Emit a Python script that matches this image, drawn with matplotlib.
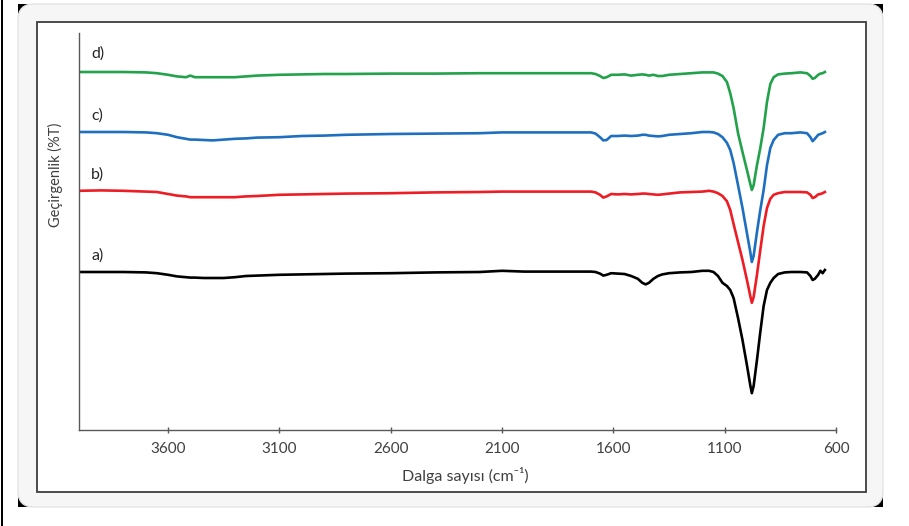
import matplotlib

matplotlib.use("Agg")

import matplotlib.pyplot as plt
from matplotlib.patches import FancyBboxPatch, Rectangle
from matplotlib.transforms import IdentityTransform

# wavenumber grid (cm-1) shared by all four spectra
wavenumber = [
    4000, 3900, 3800, 3700, 3650, 3600, 3560, 3520, 3500, 3480, 3440, 3400, 3350, 3300,
    3250, 3200, 3100, 3000, 2900, 2800, 2600, 2400, 2200, 2100, 2000, 1900, 1800, 1700,
    1680, 1660, 1645, 1630, 1610, 1580, 1550, 1520, 1490, 1470, 1455, 1440, 1420, 1400,
    1380, 1350, 1300, 1250, 1200, 1170, 1150, 1130, 1110, 1090, 1075, 1060, 1040, 1020,
    1000, 985, 978, 970, 955, 940, 925, 910, 895, 880, 860, 830, 800, 760, 730, 715, 705,
    695, 680, 670, 660, 650,
]

# transmittance (arbitrary %T, spectra stacked with offsets as in the figure)
trans_d = [
    89.5, 89.5, 89.5, 89.4, 89.2, 88.8, 88.4, 88.2, 88.6, 88.2, 88.2, 88.2, 88.2, 88.2,
    88.4, 88.6, 88.8, 88.9, 89.0, 89.0, 89.1, 89.1, 89.2, 89.2, 89.2, 89.2, 89.2, 89.2,
    89.0, 88.5, 88.0, 88.2, 88.8, 88.8, 88.9, 88.6, 88.8, 88.9, 88.8, 88.6, 88.8, 88.5,
    88.5, 88.8, 89.0, 89.2, 89.4, 89.4, 89.4, 89.1, 88.5, 87.0, 84.2, 80.5, 74.2, 69.5,
    65.0, 61.5, 60.0, 61.2, 66.2, 70.5, 75.5, 82.0, 86.5, 88.2, 88.9, 89.1, 89.2, 89.4,
    89.2, 88.5, 87.8, 88.0, 88.8, 89.1, 89.2, 89.5,
]
trans_c = [
    74.5, 74.5, 74.5, 74.4, 74.2, 73.8, 73.2, 72.8, 72.6, 72.6, 72.5, 72.4, 72.6, 72.8,
    72.9, 73.1, 73.2, 73.5, 73.6, 73.8, 74.0, 74.1, 74.2, 74.4, 74.4, 74.4, 74.4, 74.4,
    74.1, 73.2, 72.4, 72.5, 73.5, 73.5, 73.6, 73.5, 73.6, 73.8, 73.8, 73.6, 73.5, 73.4,
    73.5, 73.8, 74.0, 74.2, 74.5, 74.5, 74.4, 74.0, 73.2, 71.8, 70.0, 66.8, 61.2, 55.5,
    49.2, 44.5, 42.0, 43.5, 49.5, 55.0, 60.0, 66.2, 70.5, 72.5, 73.8, 74.2, 74.2, 74.4,
    74.2, 73.2, 72.2, 72.8, 73.8, 74.0, 74.2, 74.5,
]
trans_b = [
    59.8, 59.9, 59.8, 59.6, 59.5, 59.0, 58.6, 58.4, 58.2, 58.2, 58.2, 58.2, 58.2, 58.2,
    58.4, 58.5, 58.8, 58.9, 59.0, 59.1, 59.2, 59.4, 59.5, 59.6, 59.6, 59.6, 59.6, 59.6,
    59.4, 58.8, 58.1, 58.4, 59.0, 58.9, 59.0, 58.9, 59.0, 59.1, 59.1, 59.0, 58.9, 58.8,
    58.9, 59.1, 59.4, 59.5, 59.6, 59.8, 59.6, 59.2, 58.5, 57.2, 55.0, 51.5, 47.0, 42.5,
    37.5, 33.5, 31.8, 33.2, 38.8, 45.0, 51.0, 55.5, 57.8, 58.8, 59.2, 59.5, 59.5, 59.5,
    59.4, 58.8, 58.0, 58.2, 58.9, 59.0, 59.2, 59.5,
]
trans_a = [
    39.5, 39.5, 39.5, 39.4, 39.2, 38.8, 38.4, 38.2, 38.1, 38.1, 38.0, 38.0, 38.0, 38.2,
    38.5, 38.6, 38.8, 38.9, 39.0, 39.1, 39.2, 39.4, 39.5, 39.8, 39.6, 39.6, 39.6, 39.6,
    39.5, 39.1, 38.6, 38.8, 39.2, 39.1, 39.0, 38.5, 37.8, 36.8, 36.4, 36.8, 37.8, 38.5,
    38.9, 39.2, 39.4, 39.5, 39.8, 39.8, 39.5, 38.5, 36.8, 36.0, 35.0, 33.0, 28.0, 22.5,
    16.2, 11.2, 9.2, 11.0, 17.5, 24.5, 31.0, 35.0, 36.8, 38.0, 39.0, 39.4, 39.5, 39.5,
    39.4, 38.5, 37.5, 37.8, 38.8, 39.8, 39.2, 40.0,
]

series_labels = ["a)", "b)", "c)", "d)"]
label_y = [43.5, 63.8, 78.5, 94.0]
x_ticks = [3600, 3100, 2600, 2100, 1600, 1100, 600]

colors = ["#000000", "#ee1c25", "#1f6fc0", "#22a24a"]
FONT = ["Lato", "DejaVu Sans"]
plt.rcParams["font.family"] = FONT

W, H = 909, 526
fig = plt.figure(figsize=(W / 100, H / 100), dpi=100)

# frame decorations (pixel coordinates, origin bottom-left)
px = IdentityTransform()
fig.patches.append(Rectangle((1, 0), 2, H, transform=px, facecolor="black", edgecolor="none", zorder=-5))
fig.patches.append(Rectangle((18, H - 507), 865, 503, transform=px, facecolor="black", edgecolor="none", zorder=-4))
fig.patches.append(
    FancyBboxPatch(
        (18, H - 507), 865, 503, boxstyle="round,pad=0,rounding_size=16", transform=px,
        facecolor="#f6f6f6", edgecolor="#e4e4e4", linewidth=1, zorder=-3,
    )
)
fig.patches.append(
    Rectangle((37, H - 492), 829, 470, transform=px, facecolor="white", edgecolor="#3c3c3c", linewidth=1.3, zorder=-2)
)

ax = fig.add_axes([79 / W, 1 - 430 / H, 757 / W, 397 / H])
ax.set_facecolor("none")

for y, c in zip([trans_a, trans_b, trans_c, trans_d], colors):
    ax.plot(wavenumber, y, color=c, linewidth=1.9, solid_joinstyle="round")

for lab, ly in zip(series_labels, label_y):
    ax.text(3945, ly, lab, fontsize=11.5, color="#262626", ha="left", va="center")

ax.set_xlim(4000, 600)
ax.set_ylim(0, 99.25)
ax.set_xticks(x_ticks)
ax.set_yticks([])
ax.tick_params(axis="x", direction="inout", length=5, width=1, color="#595959", labelsize=11, labelcolor="#404040", pad=6)
for side in ["top", "right"]:
    ax.spines[side].set_visible(False)
for side in ["left", "bottom"]:
    ax.spines[side].set_color("#595959")
    ax.spines[side].set_linewidth(1)

fig.text(465 / W, 1 - 475 / H, "Dalga sayısı (cm⁻¹)", fontsize=11.5, color="#404040", ha="center", va="center")
fig.text(55 / W, 1 - 175 / H, "Geçirgenlik (%T)", fontsize=10.5, color="#404040", ha="center", va="center", rotation=90)

fig.savefig("out.png", dpi=100)
